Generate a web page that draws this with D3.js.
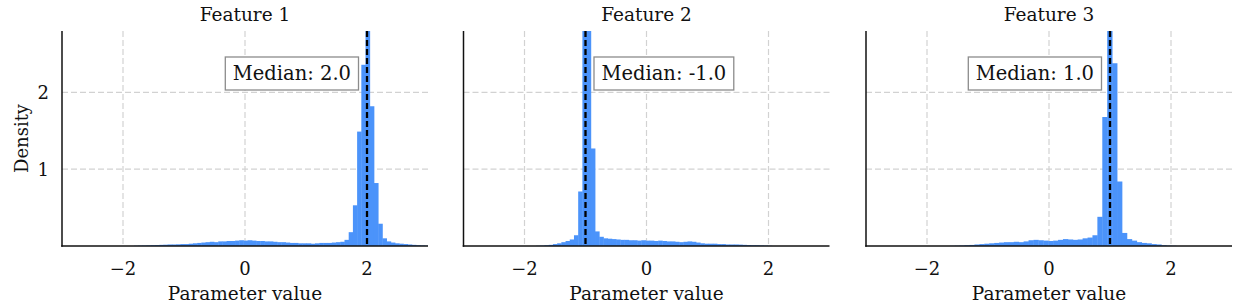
<!DOCTYPE html>
<html>
  <head>
    <meta charset="utf-8">
    <title>Parameter histograms</title>
    <script src="https://cdn.jsdelivr.net/npm/d3@7/dist/d3.min.js"></script>
    <style>
      body { margin: 0; background: #ffffff; }
      text { font-family: "DejaVu Serif", serif; fill: #111111; }
    </style>
  </head>
  <body>
    <svg width="1245" height="308" id="mainsvg"></svg>
    <script>
        // data
        const features = ['Feature 1', 'Feature 2', 'Feature 3'];
        const medians = [2.0, -1.0, 1.0];
        const binStarts = [-1.819, -1.81, -1.625];
        const binWidths = [0.069, 0.069, 0.0806];

        const density1 = [
            0.003, 0.005, 0.006, 0.008, 0.01,
            0.012, 0.015, 0.017, 0.02, 0.02,
            0.022, 0.025, 0.025, 0.03, 0.035,
            0.04, 0.045, 0.05, 0.055, 0.05,
            0.06, 0.06, 0.065, 0.065, 0.07,
            0.075, 0.07, 0.075, 0.07, 0.065,
            0.065, 0.06, 0.06, 0.055, 0.05,
            0.05, 0.045, 0.04, 0.04, 0.035,
            0.035, 0.035, 0.03, 0.035, 0.04,
            0.04, 0.04, 0.045, 0.05, 0.055, 0.08,
            0.18, 0.53, 1.49, 2.36, 3.0,
            1.82, 0.82, 0.29, 0.10, 0.06, 0.045, 0.035, 0.03, 0.025, 0.02, 0.015, 0.01, 0.007, 0.004
        ];
        const density2 = [
            0.003, 0.005, 0.01, 0.015, 0.025, 0.035, 0.05, 0.065, 0.085, 0.14, 0.71,
            3.0, 3.0,
            1.27, 0.19, 0.12, 0.10, 0.095, 0.09, 0.085, 0.08, 0.08, 0.075,
            0.075, 0.07, 0.075, 0.07, 0.07, 0.065, 0.07, 0.065, 0.06, 0.06,
            0.055, 0.05, 0.055, 0.06, 0.055, 0.045, 0.035, 0.03, 0.03, 0.03,
            0.025, 0.025, 0.02, 0.02, 0.02, 0.018, 0.015, 0.012, 0.01, 0.01,
            0.007, 0.005, 0.003
        ];
        const density3 = [
            0.002, 0.004, 0.006, 0.01, 0.014,
            0.02, 0.025, 0.03, 0.035, 0.04,
            0.045, 0.05, 0.05, 0.055, 0.05, 0.06,
            0.075, 0.08, 0.075, 0.07,
            0.065, 0.07, 0.08, 0.09, 0.085, 0.08, 0.085, 0.10, 0.11, 0.14,
            0.38, 1.68, 3.0, 2.38, 0.84, 0.17, 0.09, 0.07, 0.05, 0.04,
            0.035, 0.025, 0.02, 0.01, 0.005, 0.003
        ];
        const densities = [density1, density2, density3];

        const xTicks = [-2, 0, 2];
        const yTicks = [1, 2];
        const xDomain = [-3, 3];
        const yDomain = [0, 2.8];

        // layout
        const svg = d3.select('#mainsvg');
        const panelLeft = [62, 463.5, 866];
        const panelWidth = 366;
        const plotTop = 31, plotBottom = 246;
        const barColor = '#4b93fa';

        const yScale = d3.scaleLinear().domain(yDomain).range([plotBottom, plotTop]);

        features.forEach((name, p) => {
            const x0 = panelLeft[p];
            const xScale = d3.scaleLinear().domain(xDomain).range([x0, x0 + panelWidth]);
            const g = svg.append('g').attr('class', 'panel');

            g.append('clipPath').attr('id', 'clip' + p)
                .append('rect')
                .attr('x', x0).attr('y', plotTop)
                .attr('width', panelWidth).attr('height', plotBottom - plotTop);

            // grid (below the bars)
            g.selectAll('.xgrid').data(xTicks).enter().append('line')
                .attr('class', 'xgrid')
                .attr('x1', d => xScale(d)).attr('x2', d => xScale(d))
                .attr('y1', plotTop).attr('y2', plotBottom)
                .attr('stroke', '#d2d2d2').attr('stroke-width', 1.2)
                .attr('stroke-dasharray', '6,3');
            g.selectAll('.ygrid').data(yTicks).enter().append('line')
                .attr('class', 'ygrid')
                .attr('x1', x0).attr('x2', x0 + panelWidth)
                .attr('y1', d => yScale(d)).attr('y2', d => yScale(d))
                .attr('stroke', '#d2d2d2').attr('stroke-width', 1.2)
                .attr('stroke-dasharray', '6,3');

            // histogram bars
            const start = binStarts[p], w = binWidths[p];
            g.append('g').attr('clip-path', `url(#clip${p})`)
                .selectAll('rect').data(densities[p]).enter().append('rect')
                .attr('x', (d, i) => xScale(start + i * w))
                .attr('width', (d, i) => xScale(start + (i + 1) * w) - xScale(start + i * w) + 0.4)
                .attr('y', d => yScale(d))
                .attr('height', d => yScale(0) - yScale(d))
                .attr('fill', barColor);

            // median line
            const m = medians[p];
            g.append('line')
                .attr('x1', xScale(m)).attr('x2', xScale(m))
                .attr('y1', plotTop).attr('y2', plotBottom)
                .attr('stroke', '#000').attr('stroke-width', 2.3)
                .attr('stroke-dasharray', '6,3');

            // spines
            g.append('line')
                .attr('x1', x0).attr('x2', x0)
                .attr('y1', plotTop).attr('y2', plotBottom + 0.75)
                .attr('stroke', '#111').attr('stroke-width', 1.5);
            g.append('line')
                .attr('x1', x0 - 0.75).attr('x2', x0 + panelWidth)
                .attr('y1', plotBottom).attr('y2', plotBottom)
                .attr('stroke', '#111').attr('stroke-width', 1.5);

            // tick labels
            g.selectAll('.xtick').data(xTicks).enter().append('text')
                .attr('class', 'xtick')
                .attr('x', d => xScale(d)).attr('y', 275)
                .attr('text-anchor', 'middle')
                .attr('font-size', '18px')
                .text(d => d < 0 ? '\u2212' + Math.abs(d) : d);
            if (p === 0) {
                g.selectAll('.ytick').data(yTicks).enter().append('text')
                    .attr('class', 'ytick')
                    .attr('x', 49).attr('y', d => yScale(d))
                    .attr('dy', '0.36em')
                    .attr('text-anchor', 'end')
                    .attr('font-size', '18px')
                    .text(d => d);
                g.append('text')
                    .attr('transform', `translate(28, ${(plotTop + plotBottom) / 2}) rotate(-90)`)
                    .attr('text-anchor', 'middle')
                    .attr('font-size', '18px')
                    .text('Density');
            }

            // title and x label
            g.append('text')
                .attr('x', x0 + panelWidth / 2).attr('y', 21)
                .attr('text-anchor', 'middle')
                .attr('font-size', '18.5px')
                .text(name);
            g.append('text')
                .attr('x', x0 + panelWidth / 2).attr('y', 300)
                .attr('text-anchor', 'middle')
                .attr('font-size', '18.5px')
                .text('Parameter value');

            // median label box: left of the line for positive medians
            const label = g.append('text')
                .attr('y', 80)
                .attr('font-size', '19.5px')
                .text('Median: ' + m.toFixed(1));
            const tw = label.node().getComputedTextLength();
            const padX = 7.5, gap = 8.5;
            const boxW = tw + 2 * padX;
            const boxX = m > 0 ? xScale(m) - gap - boxW : xScale(m) + gap;
            label.attr('x', boxX + padX);
            g.insert('rect', () => label.node())
                .attr('x', boxX).attr('y', 57)
                .attr('width', boxW).attr('height', 33)
                .attr('fill', '#ffffff')
                .attr('stroke', '#8c8c8c').attr('stroke-width', 1.3);
        });
    </script>
  </body>
</html>
